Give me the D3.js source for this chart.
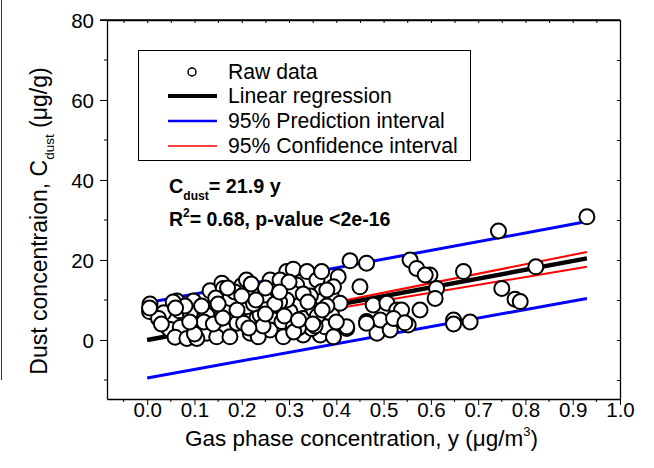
<!DOCTYPE html>
<html><head><meta charset="utf-8">
<script src="https://cdn.jsdelivr.net/npm/d3@7"></script>
<style>body{margin:0;background:#fff}svg{display:block;font-family:Arial,"Liberation Sans",sans-serif}</style>
</head><body><svg id="c" width="654" height="468"></svg>
<script>
// Raw data: gas phase concentration (x, µg/m3) and dust concentration (y, µg/g)
const rawX = [0.006,0.005,0.035,0.063,0.068,0.098,0.047,0.07,0.059,0.084,0.108,0.112,0.126,0.133,0.137,0.158,0.161,0.165,0.154,0.175,
  0.19,0.197,0.2,0.21,0.21,0.218,0.232,0.232,0.249,0.26,0.274,0.267,0.26,0.288,0.295,0.309,0.316,0.309,0.323,0.338,
  0.33,0.33,0.359,0.369,0.369,0.366,0.362,0.366,0.39,0.39,0.404,0.408,0.394,0.422,0.429,0.464,0.45,0.464,0.486,0.478,
  0.493,0.507,0.514,0.528,0.024,0.091,0.105,0.147,0.175,0.204,0.235,0.274,0.285,0.302,0.309,0.352,0.348,0.376,0.394,0.295,
  0.281,0.239,0.21,0.175,0.126,0.93,0.743,0.822,0.669,0.612,0.609,0.75,0.778,0.789,0.648,0.648,0.683,0.598,0.556,0.57,
  0.588,0.538,0.577,0.521,0.552,0.545,0.464,0.422,0.005,0.08,0.12,0.145,0.185,0.225,0.245,0.28,0.32,0.345,0.36,0.38,
  0.03,0.055,0.1,0.14,0.17,0.215,0.25,0.3,0.33,0.355,
  0.115,0.16,0.19,0.23,0.27,0.29,0.31,0.34,0.37,0.4,0.2,0.25,0.28,0.35,0.15,0.09,0.06,0.22,0.32,0.38];
const rawY = [9.0,7.1,6.8,9.75,7.3,9.75,2.7,3.2,0.7,0.4,6.25,3.75,1.7,12.3,7.5,14.2,12.9,2.5,5.4,7.1,
  4.2,10.4,13.6,15.0,8.3,1.7,5.4,2.5,11.25,15.0,7.5,5.0,2.5,0.8,17.1,17.7,13.75,11.7,8.75,17.1,
  5.4,1.25,15.0,17.1,12.1,9.6,5.0,1.25,10.8,6.25,15.8,9.2,13.3,2.9,19.8,19.2,13.3,4.6,1.7,8.75,
  5.0,9.2,2.5,7.5,5.4,6.7,0.4,0.8,0.8,4.2,0.8,12.5,4.6,7.1,3.3,7.5,2.9,3.3,0.8,10.0,
  15.0,6.25,11.25,10.4,6.25,30.8,27.25,18.3,17.1,12.9,10.4,12.9,10.2,9.6,5.0,4.0,4.5,16.25,20.0,17.9,
  16.25,7.5,7.5,5.4,3.75,4.3,4.2,3.3,8.0,8.5,4.5,10.5,12.0,9.0,3.5,9.5,3.0,11.0,6.0,8.5,
  4.0,9.5,1.5,4.0,13.0,3.0,13.0,14.5,11.5,3.5,
  8.5,5.5,7.5,10.0,9.0,6.0,2.0,9.5,7.5,4.5,11.0,6.5,12.0,4.0,9.0,4.5,8.0,14.0,5.0,12.5];
// Fitted lines (C_dust = 21.9 y) and 95% intervals at the ends of the data range
const lineX = [0, 0.93];
const fitY = [0, 20.4];
const predLower = [-9.5, 10.4];
const predUpper = [9.3, 29.6];
const confLower = [0, 18.3];
const confUpper = [0, 22.0];
const xTicks = [0,0.1,0.2,0.3,0.4,0.5,0.6,0.7,0.8,0.9,1.0];
const yTicks = [0,20,40,60,80];
const legendLabels = ["Raw data","Linear regression","95% Prediction interval","95% Confidence interval"];

const svg = d3.select("#c");
const L=107, R=620, T=20, B=399;
const x = d3.scaleLinear().domain([-0.085,1.0]).range([L,R]);
const y = d3.scaleLinear().domain([-14.75,80]).range([B,T]);

// stray border on the far left
svg.append("line").attr("x1",1.5).attr("x2",1.5).attr("y1",0).attr("y2",380).attr("stroke","#333").attr("stroke-width",1);

const g = svg.append("g");
const ln = d3.line().x(d=>x(d[0])).y(d=>y(d[1]));
function drawLine(vals,color,w){
  g.append("path").attr("d",ln(lineX.map((v,i)=>[v,vals[i]]))).attr("fill","none").attr("stroke",color).attr("stroke-width",w);
}
drawLine(predUpper,"#0000ff",3);
drawLine(predLower,"#0000ff",3);
drawLine(confUpper,"#ff0000",2);
drawLine(confLower,"#ff0000",2);
drawLine(fitY,"#000",4.5);
g.selectAll("circle.pt").data(rawX.map((v,i)=>[v,rawY[i]])).join("circle").attr("class","pt")
  .attr("cx",d=>x(d[0])).attr("cy",d=>y(d[1])).attr("r",7.5)
  .attr("fill","#fff").attr("stroke","#000").attr("stroke-width",2);

// axes
const minorX = d3.range(-0.05,1.0,0.1);
const minorY = d3.range(-10,80,20);
const xAxis = d3.axisBottom(x).tickValues(xTicks).tickFormat(d3.format(".1f")).tickSize(6).tickSizeOuter(0);
const xa = svg.append("g").attr("transform",`translate(0,${B})`).call(xAxis);
xa.append("g").selectAll("line").data(minorX).join("line").attr("x1",d=>x(d)).attr("x2",d=>x(d)).attr("y1",0).attr("y2",3).attr("stroke","#000");
const yAxis = d3.axisLeft(y).tickValues(yTicks).tickSize(7).tickSizeOuter(0);
const ya = svg.append("g").attr("transform",`translate(${L},0)`).call(yAxis);
ya.append("g").selectAll("line").data(minorY).join("line").attr("y1",d=>y(d)).attr("y2",d=>y(d)).attr("x1",0).attr("x2",-3).attr("stroke","#000");
const xTop = d3.axisTop(x).tickValues(d3.range(-0.05,1.0001,0.05)).tickSize(-3).tickSizeOuter(0).tickFormat("");
svg.append("g").attr("transform",`translate(0,${T})`).call(xTop);
const yRight = d3.axisRight(y).tickValues(d3.range(-10,80.1,10)).tickSize(-3).tickSizeOuter(0).tickFormat("");
svg.append("g").attr("transform",`translate(${R},0)`).call(yRight);
svg.selectAll(".domain").attr("stroke","#000").attr("stroke-width",1.3);
xa.selectAll(".tick text").attr("font-size",20.5).attr("font-family","Arial, Liberation Sans")
  .attr("y",18).attr("dy",0);
ya.selectAll(".tick text").attr("font-size",20.5).attr("font-family","Arial, Liberation Sans")
  .attr("x",-13).attr("dy","0.36em");
svg.selectAll(".tick line").attr("stroke","#000");
svg.append("line").attr("x1",L-7).attr("x2",R).attr("y1",T).attr("y2",T).attr("stroke","#000").attr("stroke-width",1.3);

// titles
const xt = svg.append("text").attr("transform",`translate(${(L+R)/2-2},446)`).attr("text-anchor","middle").attr("font-size",22.5);
xt.append("tspan").text("Gas phase concentration, y (\u03bcg/m");
xt.append("tspan").text("3").attr("font-size",13).attr("dy",-10);
xt.append("tspan").text(")").attr("dy",10);
const yt = svg.append("text").attr("transform",`translate(47,221) rotate(-90)`).attr("text-anchor","middle").attr("font-size",23);
yt.append("tspan").text("Dust concentraion, C");
yt.append("tspan").text("dust").attr("font-size",13.5).attr("dy",7);
yt.append("tspan").text(" (\u03bcg/g)").attr("dy",-7);

// legend
const lg = svg.append("g");
lg.append("rect").attr("x",138.5).attr("y",50.5).attr("width",332).attr("height",110).attr("fill","#fff").attr("stroke","#000").attr("stroke-width",1);
const rowY = [72,96,121,146];
lg.append("circle").attr("cx",192).attr("cy",rowY[0]).attr("r",4).attr("fill","#fff").attr("stroke","#000").attr("stroke-width",1.5);
[["#000",4],["#0000ff",2.5],["#ff0000",1.5]].forEach((s,i)=>{
  lg.append("line").attr("x1",168).attr("x2",217).attr("y1",rowY[i+1]).attr("y2",rowY[i+1]).attr("stroke",s[0]).attr("stroke-width",s[1]);
});
lg.selectAll("text").data(legendLabels).join("text")
  .attr("x",228).attr("y",(d,i)=>rowY[i]).attr("dy","0.35em").attr("font-size",21.2).text(d=>d);

// annotations
const a1 = svg.append("text").attr("x",169).attr("y",193).attr("font-size",19.8).attr("font-weight","bold");
a1.append("tspan").text("C");
a1.append("tspan").text("dust").attr("font-size",12).attr("dy",7);
a1.append("tspan").text("= 21.9 y").attr("dy",-7);
const a2 = svg.append("text").attr("x",169).attr("y",226).attr("font-size",19.5).attr("font-weight","bold");
a2.append("tspan").text("R");
a2.append("tspan").text("2").attr("font-size",12).attr("dy",-9);
a2.append("tspan").text("= 0.68, p-value <2e-16").attr("dy",9);
</script></body></html>
